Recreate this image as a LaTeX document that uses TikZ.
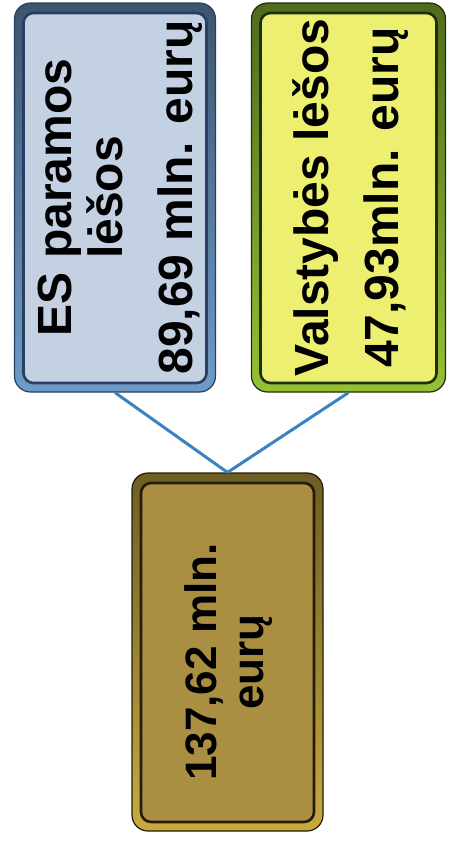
\documentclass[tikz,border=0pt]{standalone}
\usepackage{fontspec}
\usepackage{graphicx}
\setmainfont{Liberation Sans}
\definecolor{esface}{RGB}{196,209,227}
\definecolor{esrim}{RGB}{110,155,200}
\definecolor{esedge}{RGB}{40,62,98}
\definecolor{vface}{RGB}{237,239,112}
\definecolor{vrim}{RGB}{150,192,52}
\definecolor{vedge}{RGB}{28,48,10}
\definecolor{totface}{RGB}{170,142,66}
\definecolor{totrim}{RGB}{200,170,62}
\definecolor{totedge}{RGB}{36,28,8}
\definecolor{link}{RGB}{58,130,192}
\tikzset{
  panel/.style n args={3}{rounded corners=16pt, draw=#3, line width=1.2pt,
    top color=#2!55!black, bottom color=#2, inner sep=0pt,
    path picture={\draw [#3, line width=2.6pt, fill=#1, rounded corners=10pt]
      ([xshift=9pt,yshift=-10pt]path picture bounding box.north west) rectangle
      ([xshift=-9pt,yshift=9pt]path picture bounding box.south east);}},
  link/.style={draw=link, line width=3pt}
}
\begin{document}
\begin{tikzpicture}[x=1pt,y=-1pt]
  \useasboundingbox (0,0) rectangle (448,844);
  \node [panel={esface}{esrim}{esedge}, minimum width=201pt, minimum height=389pt,
    font=\bfseries\fontsize{48}{50}\selectfont] (es) at (115,197.5)
    {\rotatebox{90}{\begin{tabular}{@{}c@{}}\rule{0pt}{49pt}ES paramos\\ lėšos\\[20pt] 89,69 mln. eurų\end{tabular}}};
  \node [panel={vface}{vrim}{vedge}, minimum width=194pt, minimum height=389pt,
    font=\bfseries\fontsize{48}{50}\selectfont] (vl) at (348.5,197.5)
    {\rotatebox{90}{\begin{tabular}{@{}c@{}}\rule{0pt}{44pt}Valstybės lėšos\\[20pt] 47,93mln. eurų\end{tabular}}};
  \node [panel={totface}{totrim}{totedge}, minimum width=191pt, minimum height=358pt,
    font=\bfseries\fontsize{44}{47}\selectfont] (total) at (227.5,652)
    {\rotatebox{90}{\begin{tabular}{@{}c@{}}\rule{0pt}{40pt}137,62 mln.\\ eurų\end{tabular}\hspace{20pt}}};
  \draw [link] (es.south) -- (total.north);
  \draw [link] (vl.south) -- (total.north);
\end{tikzpicture}
\end{document}
